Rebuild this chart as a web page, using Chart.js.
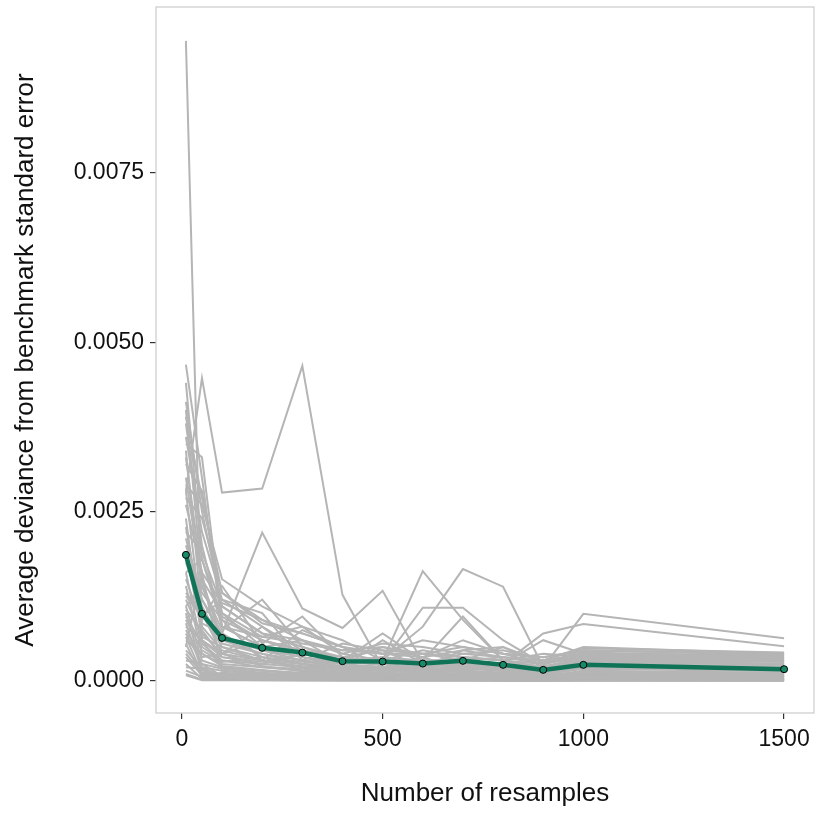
<!DOCTYPE html>
<html>
<head>
<meta charset="utf-8">
<script src="https://cdn.jsdelivr.net/npm/chart.js@4.4.1/dist/chart.umd.min.js"></script>
<style>
  html, body { margin: 0; padding: 0; background: #fff; }
  canvas { display: block; }
</style>
</head>
<body>
<canvas id="devianceChart" width="817" height="814"></canvas>
<script>
// resample counts on the x axis
const resamples = [10, 50, 100, 200, 300, 400, 500, 600, 700, 800, 900, 1000, 1500];

// green summary line
const meanDeviance = [0.00186, 0.00099, 0.000634, 0.000487, 0.000417, 0.00029, 0.000285, 0.000255, 0.000295, 0.000236, 0.000162, 0.000236, 0.000172];

// one grey line per run (estimated where the cloud is dense)
const runDeviance = [
  [0.00945, 0.0006, 0.0004, 0.0003, 0.00025, 0.0002, 0.00015, 0.00018, 0.00012, 0.0001, 0.00008, 0.0001, 0.00009],
  [0.0028, 0.00447, 0.00278, 0.00284, 0.00465, 0.00127, 0.0002, 0.00015, 0.0002, 0.00018, 0.00012, 0.0002, 0.00015],
  [0.0018, 0.0012, 0.0007, 0.00219, 0.00107, 0.00078, 0.00133, 0.00027, 0.00025, 0.0002, 0.00015, 0.0003, 0.00025],
  [0.00467, 0.003, 0.0008, 0.0005, 0.00035, 0.00025, 0.0003, 0.00162, 0.0009, 0.0003, 0.00018, 0.00025, 0.0002],
  [0.0044, 0.0018, 0.00095, 0.0006, 0.0004, 0.0003, 0.00031, 0.0008, 0.00165, 0.00139, 0.0002, 0.0003, 0.0003],
  [0.00412, 0.0025, 0.0011, 0.0007, 0.0005, 0.00035, 0.00028, 0.00108, 0.00108, 0.0006, 0.00025, 0.00035, 0.00028],
  [0.004, 0.0015, 0.0006, 0.0004, 0.0003, 0.0002, 0.00025, 0.0003, 0.00095, 0.0003, 0.0002, 0.00099, 0.00063],
  [0.0038, 0.002, 0.0008, 0.0005, 0.0006, 0.00025, 0.00035, 0.00025, 0.0003, 0.00025, 0.0007, 0.00084, 0.00051],
  [0.0036, 0.0022, 0.0012, 0.0008, 0.00045, 0.0003, 0.0005, 0.0004, 0.00035, 0.0003, 0.00025, 0.00045, 0.00038],
  [0.0034, 0.001, 0.0005, 0.00035, 0.00028, 0.00022, 0.0002, 0.00022, 0.00025, 0.0002, 0.00015, 0.0004, 0.00035],
  [0.0032, 0.0028, 0.001, 0.00065, 0.0008, 0.0004, 0.0003, 0.00025, 0.0004, 0.00035, 0.0003, 0.0005, 0.0004],
  [0.003, 0.0014, 0.00075, 0.0012, 0.0005, 0.0003, 0.0007, 0.0003, 0.00025, 0.0002, 0.0002, 0.00035, 0.00032],
  [0.0028, 0.0008, 0.00045, 0.0003, 0.0002, 0.00015, 0.00018, 0.00015, 0.0002, 0.00015, 0.0001, 0.00025, 0.00022],
  [0.0026, 0.0016, 0.00115, 0.0009, 0.0006, 0.00045, 0.0004, 0.0006, 0.0005, 0.0004, 0.00025, 0.00038, 0.0003],
  [0.0024, 0.0006, 0.00035, 0.00025, 0.0002, 0.00015, 0.00012, 0.0001, 0.00015, 0.00012, 0.00008, 0.0002, 0.00018],
  [0.00227, 0.0009, 0.0014, 0.00055, 0.00095, 0.00035, 0.00025, 0.0003, 0.0003, 0.0005, 0.0002, 0.0003, 0.00025],
  [0.0021, 0.0012, 0.00065, 0.00045, 0.0003, 0.00025, 0.0002, 0.0002, 0.00025, 0.0002, 0.00015, 0.00028, 0.00025],
  [0.0019, 0.0007, 0.0004, 0.0008, 0.00035, 0.0002, 0.0006, 0.00025, 0.0002, 0.00015, 0.0001, 0.00022, 0.00018],
  [0.00175, 0.0011, 0.00055, 0.0004, 0.00025, 0.0002, 0.00018, 0.0002, 0.00015, 0.00012, 0.0001, 0.0002, 0.00015],
  [0.0016, 0.0005, 0.0003, 0.00025, 0.0004, 0.0003, 0.00025, 0.0002, 0.00035, 0.0003, 0.0002, 0.0003, 0.00028],
  [0.0015, 0.00085, 0.0007, 0.00035, 0.00025, 0.00018, 0.00015, 0.00018, 0.0002, 0.00015, 0.00012, 0.0002, 0.00016],
  [0.0014, 0.0004, 0.00025, 0.0002, 0.00015, 0.00012, 0.0001, 0.00012, 0.0001, 0.00008, 0.00006, 0.00015, 0.00012],
  [0.0013, 0.001, 0.0004, 0.0006, 0.00045, 0.00025, 0.0003, 0.00025, 0.0002, 0.00018, 0.00015, 0.00025, 0.0002],
  [0.0012, 0.00065, 0.0005, 0.0003, 0.0002, 0.00015, 0.00015, 0.00013, 0.00015, 0.0001, 0.00009, 0.00018, 0.00014],
  [0.0011, 0.0003, 0.0002, 0.00015, 0.00012, 0.0001, 0.00008, 0.0001, 0.00008, 0.00007, 0.00005, 0.00012, 0.0001],
  [0.00105, 0.00075, 0.00035, 0.00028, 0.00022, 0.00018, 0.0002, 0.00015, 0.00018, 0.00015, 0.0001, 0.00022, 0.00019],
  [0.001, 0.0002, 0.00015, 0.0001, 0.00008, 0.00006, 0.00007, 0.00006, 0.00005, 0.00004, 0.00004, 0.00008, 0.00007],
  [0.00095, 0.00055, 0.0003, 0.0002, 0.00018, 0.00012, 0.0001, 0.00012, 0.0001, 0.00009, 0.00007, 0.00014, 0.00011],
  [0.0009, 0.00045, 0.00028, 0.00035, 0.00015, 0.0001, 0.00012, 0.00008, 0.00009, 0.00007, 0.00005, 0.0001, 0.00008],
  [0.00085, 0.00015, 0.0001, 0.00008, 0.00006, 0.00005, 0.00004, 0.00005, 0.00004, 0.00003, 0.00003, 0.00006, 0.00005],
  [0.0008, 0.0006, 0.0002, 0.00015, 0.0001, 0.00008, 0.00009, 0.00007, 0.00006, 0.00005, 0.00004, 0.00009, 0.00007],
  [0.00075, 0.00035, 0.0004, 0.00022, 0.00014, 0.00011, 0.00009, 0.0001, 0.00008, 0.00006, 0.00005, 0.00011, 0.00009],
  [0.0007, 0.00025, 0.00018, 0.00012, 0.00009, 0.00007, 0.00006, 0.00005, 0.00005, 0.00004, 0.00003, 0.00007, 0.00006],
  [0.00065, 0.0001, 0.00008, 0.00006, 0.00005, 0.00004, 0.00003, 0.00004, 0.00003, 0.00003, 0.00002, 0.00005, 0.00004],
  [0.0006, 0.0004, 0.00022, 0.00016, 0.00011, 0.00009, 0.00008, 0.00007, 0.00007, 0.00005, 0.00004, 0.00008, 0.00006],
  [0.00055, 0.00005, 0.00012, 0.00009, 0.00007, 0.00005, 0.00004, 0.00003, 0.00004, 0.00003, 0.00002, 0.00004, 0.00003],
  [0.0005, 0.0016, 0.00015, 0.0001, 0.00008, 0.00006, 0.00005, 0.00005, 0.00004, 0.00004, 0.00003, 0.00006, 0.00005],
  [0.00045, 0.0002, 0.00006, 0.00005, 0.00004, 0.00003, 0.00003, 0.00002, 0.00003, 0.00002, 0.00002, 0.00003, 0.00002],
  [0.0004, 0.00012, 0.0001, 0.00007, 0.00005, 0.00004, 0.000035, 0.00003, 0.00003, 0.000025, 0.00002, 0.00004, 0.00003],
  [0.00035, 0.00008, 0.00005, 0.00004, 0.00003, 0.000025, 0.00002, 0.00002, 0.00002, 0.000015, 0.00001, 0.000025, 0.00002],
  [0.0003, 0.00025, 0.00007, 0.00006, 0.000045, 0.000035, 0.00003, 0.000025, 0.000025, 0.00002, 0.000015, 0.00003, 0.000025],
  [0.00025, 0.00003, 0.00004, 0.00003, 0.000025, 0.00002, 0.000015, 0.000015, 0.000015, 0.00001, 0.00001, 0.00002, 0.000015],
  [0.0002, 0.00018, 0.00003, 0.000025, 0.00002, 0.000015, 0.000012, 0.00001, 0.00001, 0.000008, 0.000006, 0.000012, 0.00001],
  [0.00015, 0.00006, 0.00002, 0.000015, 0.000012, 0.00001, 0.00001, 0.000008, 0.000008, 0.000006, 0.000005, 0.000008, 0.000006],
  [0.0001, 0.00002, 0.000015, 0.00001, 0.000008, 0.000006, 0.000005, 0.000005, 0.000005, 0.000004, 0.000003, 0.000005, 0.000004],
  [0.00008, 0.00001, 0.00001, 0.000008, 0.000006, 0.000005, 0.000004, 0.000004, 0.000004, 0.000003, 0.000002, 0.000003, 0.000002],
  [0.002, 0.0013, 0.0009, 0.0003, 0.00075, 0.0005, 0.0002, 0.00035, 0.00015, 0.00025, 0.0006, 0.0004, 0.00033],
  [0.00125, 0.00095, 0.0012, 0.001, 0.0003, 0.00055, 0.00045, 0.0002, 0.00045, 0.00035, 0.00025, 0.00042, 0.00036],
  [0.0022, 0.0019, 0.0011, 0.0007, 0.0006, 0.0004, 0.00055, 0.0005, 0.0004, 0.00045, 0.0003, 0.00048, 0.00042],
  [0.0027, 0.0024, 0.0013, 0.00085, 0.0007, 0.0005, 0.0004, 0.00035, 0.0006, 0.0004, 0.00035, 0.00045, 0.0004],
  [0.0035, 0.0033, 0.0009, 0.0006, 0.00045, 0.00035, 0.00045, 0.0004, 0.0003, 0.00035, 0.0003, 0.0004, 0.00038],
  [0.0029, 0.0026, 0.0015, 0.0011, 0.0008, 0.0006, 0.0003, 0.00045, 0.00035, 0.0003, 0.0004, 0.00036, 0.00034],
  [0.0016, 0.0018, 0.0008, 0.00065, 0.00055, 0.00045, 0.0005, 0.00035, 0.00045, 0.0005, 0.00028, 0.00033, 0.0003],
  [0.0033, 0.0015, 0.001, 0.0005, 0.0004, 0.0003, 0.00035, 0.0003, 0.0003, 0.00025, 0.00022, 0.00031, 0.00029],
  [0.0011, 0.0014, 0.00065, 0.00045, 0.00035, 0.00028, 0.00025, 0.00028, 0.00022, 0.00018, 0.00016, 0.00027, 0.00024],
  [0.0039, 0.0027, 0.0013, 0.0009, 0.0007, 0.0005, 0.0004, 0.0004, 0.0005, 0.0004, 0.00035, 0.00044, 0.00041]
];

const xTicks = [0, 500, 1000, 1500];
const yTicks = [0, 0.0025, 0.005, 0.0075];

const font = '"Liberation Sans", Arial, sans-serif';

function toPoints(values) {
  return values.map((v, i) => ({ x: resamples[i], y: v }));
}

const datasets = [{
  label: 'mean',
  data: toPoints(meanDeviance),
  borderColor: '#0e7357',
  borderWidth: 4.5,
  pointRadius: 3.5,
  pointBackgroundColor: '#178a68',
  pointBorderColor: '#000',
  pointBorderWidth: 1,
  order: 0
}];

runDeviance.forEach((run, i) => {
  datasets.push({
    label: 'run ' + (i + 1),
    data: toPoints(run),
    borderColor: '#b5b5b5',
    borderWidth: 2,
    pointRadius: 0,
    order: 1
  });
});

// ggplot style grey frame around the panel
const panelBorder = {
  id: 'panelBorder',
  afterDraw(chart) {
    const { ctx, chartArea: a } = chart;
    ctx.save();
    ctx.strokeStyle = '#cfcfcf';
    ctx.lineWidth = 1.3;
    ctx.strokeRect(a.left, a.top, a.right - a.left, a.bottom - a.top);
    ctx.restore();
  }
};

new Chart(document.getElementById('devianceChart'), {
  type: 'line',
  data: { datasets },
  options: {
    responsive: false,
    animation: false,
    devicePixelRatio: 1,
    layout: { autoPadding: false, padding: { left: 0, right: 3, top: 7, bottom: 0 } },
    plugins: { legend: { display: false }, tooltip: { enabled: false } },
    elements: { line: { tension: 0 } },
    scales: {
      x: {
        type: 'linear',
        min: -64.5,
        max: 1574.5,
        afterBuildTicks: s => { s.ticks = xTicks.map(v => ({ value: v })); },
        afterFit: s => { s.height = 101; s.paddingLeft = 0; s.paddingRight = 0; },
        grid: { drawOnChartArea: false, drawTicks: true, tickLength: 6, color: '#333', lineWidth: 1.2 },
        border: { display: false },
        ticks: {
          color: '#111',
          padding: 7,
          maxRotation: 0,
          font: { family: font, size: 23 },
          callback: v => String(v)
        },
        title: {
          display: true,
          text: 'Number of resamples',
          color: '#111',
          font: { family: font, size: 26 },
          padding: { top: 0, bottom: 5 }
        }
      },
      y: {
        type: 'linear',
        min: -0.000475,
        max: 0.00995,
        afterBuildTicks: s => { s.ticks = yTicks.map(v => ({ value: v })); },
        afterFit: s => { s.width = 156; s.paddingTop = 0; s.paddingBottom = 0; },
        grid: { drawOnChartArea: false, drawTicks: true, tickLength: 6, color: '#333', lineWidth: 1.2 },
        border: { display: false },
        ticks: {
          color: '#111',
          padding: 6,
          font: { family: font, size: 23 },
          callback: v => v.toFixed(4)
        },
        title: {
          display: true,
          text: 'Average deviance from benchmark standard error',
          color: '#111',
          font: { family: font, size: 26 },
          padding: { top: 10, bottom: 0 }
        }
      }
    }
  },
  plugins: [panelBorder]
});
</script>
</body>
</html>
